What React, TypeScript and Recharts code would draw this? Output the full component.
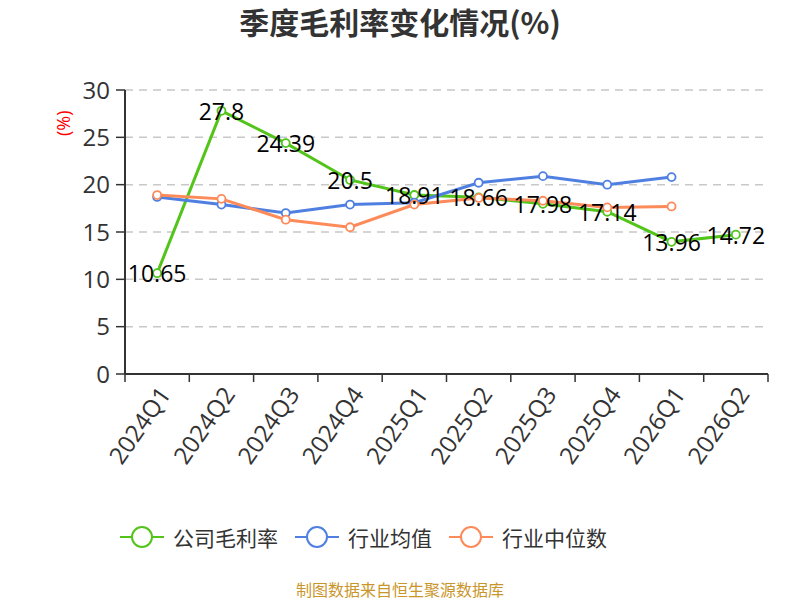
import { LineChart, Line, XAxis, YAxis, CartesianGrid, LabelList } from 'recharts';

// 季度毛利率数据
const quarters = ['2024Q1', '2024Q2', '2024Q3', '2024Q4', '2025Q1', '2025Q2', '2025Q3', '2025Q4', '2026Q1', '2026Q2'];
const companyMargin = [10.65, 27.8, 24.39, 20.5, 18.91, 18.66, 17.98, 17.14, 13.96, 14.72];
const industryAvg = [18.7, 17.9, 17.0, 17.9, 18.1, 20.2, 20.9, 20.0, 20.8, null];
const industryMedian = [18.9, 18.5, 16.3, 15.5, 17.9, 18.6, 18.3, 17.6, 17.7, null];
const yTicks = [0, 5, 10, 15, 20, 25, 30];

const seriesInfo = [
    { key: 'company', name: '公司毛利率', color: '#52c41a' },
    { key: 'avg', name: '行业均值', color: '#4f80e1' },
    { key: 'median', name: '行业中位数', color: '#fd8b5a' },
];

const data = quarters.map((q, i) => ({
    name: q,
    company: companyMargin[i],
    avg: industryAvg[i],
    median: industryMedian[i],
}));

const FONT = "'Open Sans', 'Noto Sans CJK SC', sans-serif";
const CJK = "'Noto Sans CJK SC', sans-serif";
const W = 800;
const H = 600;
const LEFT = 125;
const RIGHT = 32;
const BAND = (W - LEFT - RIGHT) / quarters.length;

if (typeof document !== 'undefined') document.body.style.margin = '0';

// x轴刻度：刻度线在类目边界，标签旋转
function XTick(props: any) {
    const { x, y, payload, index } = props;
    const half = BAND / 2;
    const tx = x + 7;
    const ty = y + 15;
    return (
        <g>
            <line x1={x - half} y1={y} x2={x - half} y2={y + 8} stroke="#333" strokeWidth={1.5} />
            {index === quarters.length - 1 && (
                <line x1={x + half} y1={y} x2={x + half} y2={y + 8} stroke="#333" strokeWidth={1.5} />
            )}
            <text
                x={tx}
                y={ty}
                textAnchor="end"
                transform={`rotate(-55 ${tx} ${ty})`}
                fontSize={24}
                fill="#333"
                fontFamily={FONT}
                dominantBaseline="central"
            >
                {payload.value}
            </text>
        </g>
    );
}

function PointLabel(props: any) {
    const { x, y, value } = props;
    return (
        <text x={x} y={y} textAnchor="middle" dominantBaseline="central" fontSize={23} fill="#000" fontFamily={FONT}>
            {value}
        </text>
    );
}

function LegendIcon({ color }: { color: string }) {
    return (
        <svg width={44} height={24} style={{ display: 'block' }}>
            <line x1={0} y1={12} x2={44} y2={12} stroke={color} strokeWidth={2} />
            <circle cx={22} cy={12} r={10} fill="#fff" stroke={color} strokeWidth={2} />
        </svg>
    );
}

export default function App() {
    return (
        <div style={{ position: 'relative', width: W, height: H, background: '#fff', fontFamily: FONT, overflow: 'hidden' }}>
            <div style={{ position: 'absolute', top: 1, left: 0, width: W, textAlign: 'center', fontSize: 30, lineHeight: '40px', fontWeight: 'bold', color: '#333', fontFamily: CJK }}>
                季度毛利率变化情况(%)
            </div>
            <LineChart width={W} height={H} data={data} margin={{ top: 90, right: RIGHT, bottom: 76, left: 0 }}>
                <CartesianGrid vertical={false} stroke="#c8c8c8" strokeDasharray="8 6" strokeWidth={1.5} />
                <XAxis
                    dataKey="name"
                    height={150}
                    padding={{ left: BAND / 2, right: BAND / 2 }}
                    axisLine={{ stroke: '#333', strokeWidth: 2 }}
                    tickLine={false}
                    tickSize={0}
                    tickMargin={0}
                    interval={0}
                    tick={<XTick />}
                />
                <YAxis
                    width={LEFT}
                    domain={[0, 30]}
                    ticks={yTicks}
                    axisLine={{ stroke: '#333', strokeWidth: 2 }}
                    tickLine={{ stroke: '#333', strokeWidth: 1.5 }}
                    tickSize={9}
                    tickMargin={6}
                    tick={{ fontSize: 24, fill: '#333', fontFamily: FONT }}
                    label={{ value: '(%)', angle: -90, position: 'insideTopLeft', offset: 0, dx: 57, dy: 46, fill: '#ff0000', fontSize: 18, fontFamily: FONT }}
                />
                {seriesInfo.map((s) => (
                    <Line
                        key={s.key}
                        dataKey={s.key}
                        name={s.name}
                        stroke={s.color}
                        strokeWidth={3}
                        dot={{ r: 4, fill: '#fff', stroke: s.color, strokeWidth: 1.8 }}
                        activeDot={false}
                        isAnimationActive={false}
                    >
                        {s.key === 'company' && <LabelList dataKey="company" content={<PointLabel />} />}
                    </Line>
                ))}
            </LineChart>
            <div style={{ position: 'absolute', top: 524, left: 120, display: 'flex', alignItems: 'center', fontSize: 21, color: '#333', fontFamily: CJK }}>
                {seriesInfo.map((s) => (
                    <div key={s.key} style={{ display: 'flex', alignItems: 'center', marginRight: 17 }}>
                        <LegendIcon color={s.color} />
                        <span style={{ marginLeft: 9, lineHeight: '26px' }}>{s.name}</span>
                    </div>
                ))}
            </div>
            <div style={{ position: 'absolute', top: 579, left: 0, width: W, textAlign: 'center', fontSize: 16, lineHeight: '20px', color: '#c9962b', fontFamily: CJK }}>
                制图数据来自恒生聚源数据库
            </div>
        </div>
    );
}
